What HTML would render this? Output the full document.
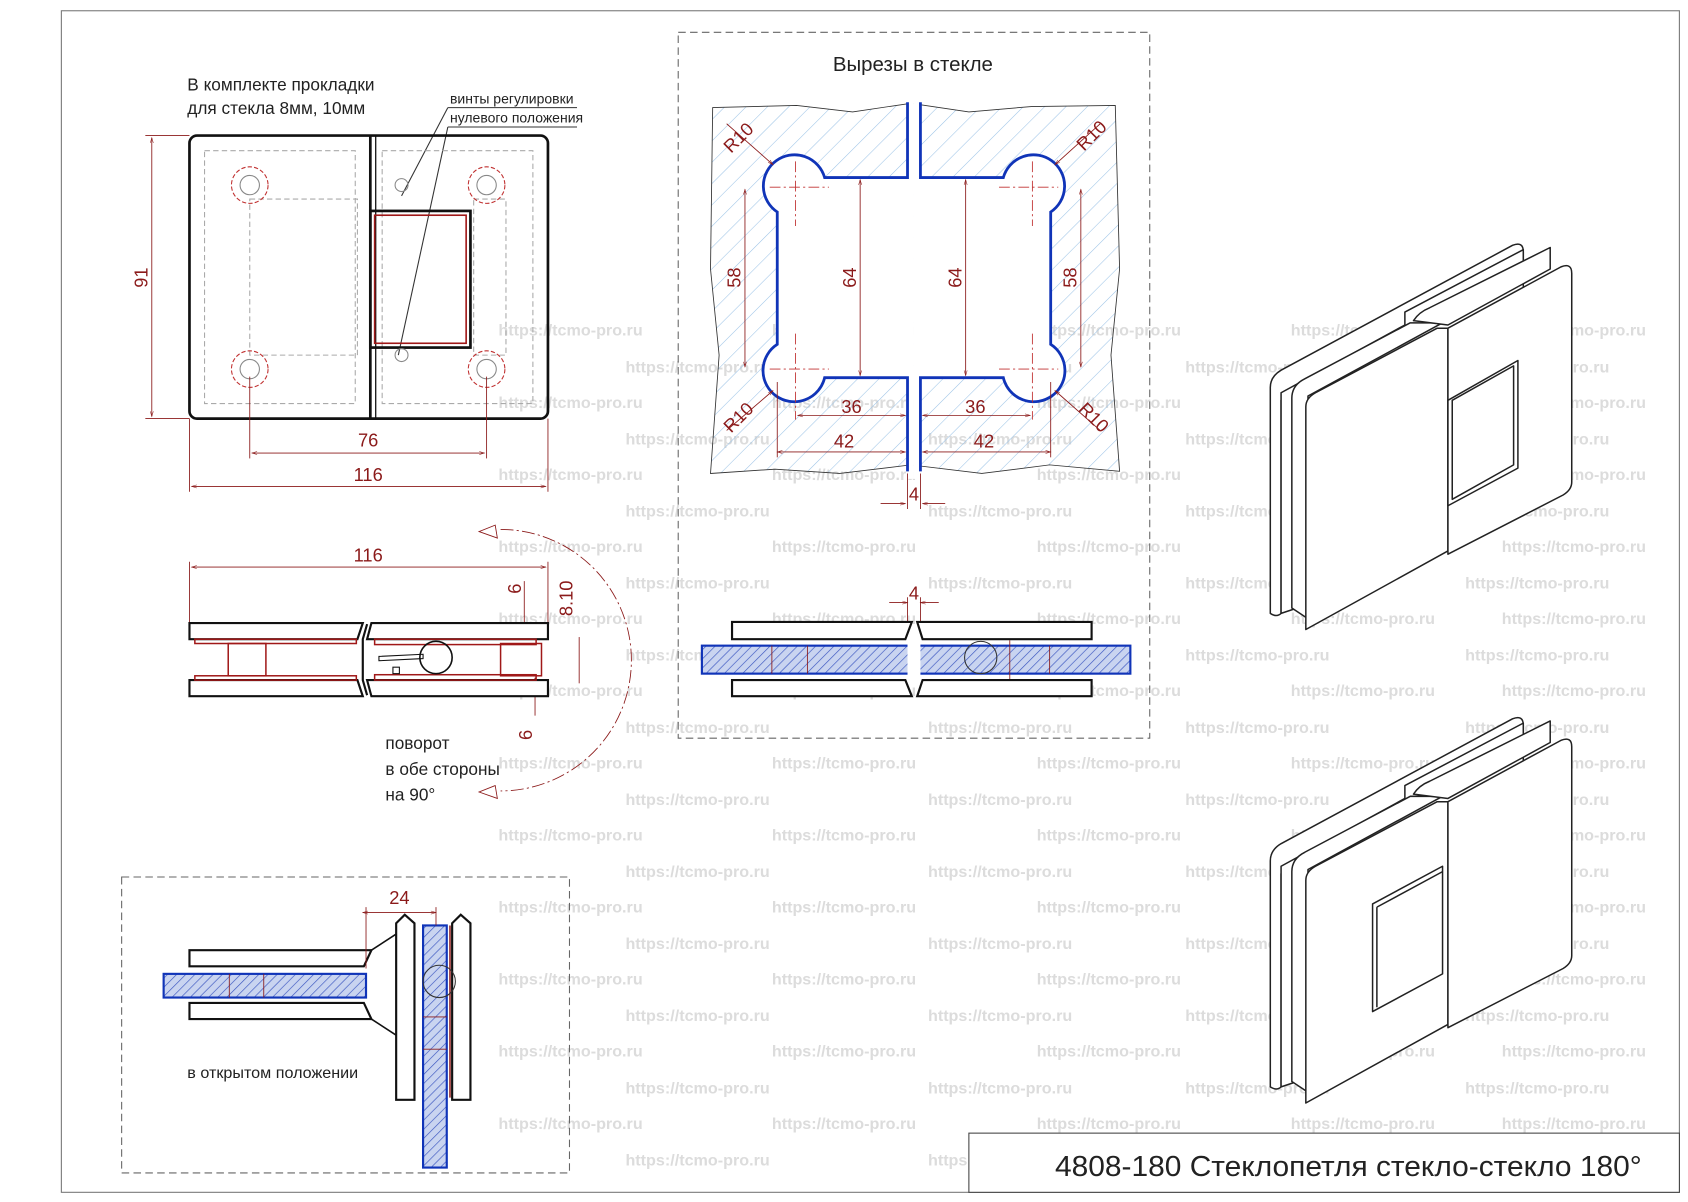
<!DOCTYPE html>
<html><head><meta charset="utf-8"><style>
html,body{margin:0;padding:0;background:#fff;}
svg{display:block}
text{font-family:"Liberation Sans",sans-serif;}
.t{font-family:"Liberation Sans Narrow","Liberation Sans",sans-serif;fill:#222;}
.r{fill:#8b1a1a;font-size:17px;font-family:"Liberation Sans Narrow","Liberation Sans",sans-serif;}
.w{fill:#dcdcdc;font-size:15px;font-weight:bold;}
</style></head><body>
<svg width="1688" height="1202" viewBox="0 0 1568 1117" preserveAspectRatio="none" xmlns="http://www.w3.org/2000/svg">
<defs>
<pattern id="h" width="14" height="14" patternUnits="userSpaceOnUse" patternTransform="rotate(45)">
<line x1="0" y1="0" x2="0" y2="14" stroke="#9cc3e6" stroke-width="1"/>
</pattern>
<pattern id="g" width="6" height="6" patternUnits="userSpaceOnUse" patternTransform="rotate(45)">
<rect width="6" height="6" fill="#c9d4f0"/><line x1="0" y1="0" x2="0" y2="6" stroke="#3a55c0" stroke-width="1.2"/>
</pattern>
<marker id="a" viewBox="0 0 10 10" refX="10" refY="5" markerWidth="10" markerHeight="6" orient="auto-start-reverse"><path d="M0,2 L10,5 L0,8" fill="none" stroke="#8b1a1a"/></marker>
</defs>
<rect x="57" y="10" width="1503" height="1098" fill="none" stroke="#777" stroke-width="1"/>

<g class="w">
<text x="463" y="312">https://tcmo-pro.ru</text><text x="717" y="312">https://tcmo-pro.ru</text><text x="963" y="312">https://tcmo-pro.ru</text><text x="1199" y="312">https://tcmo-pro.ru</text><text x="1395" y="312">https://tcmo-pro.ru</text>
<text x="581" y="346">https://tcmo-pro.ru</text><text x="862" y="346">https://tcmo-pro.ru</text><text x="1101" y="346">https://tcmo-pro.ru</text><text x="1361" y="346">https://tcmo-pro.ru</text>
<text x="463" y="379">https://tcmo-pro.ru</text><text x="717" y="379">https://tcmo-pro.ru</text><text x="963" y="379">https://tcmo-pro.ru</text><text x="1199" y="379">https://tcmo-pro.ru</text><text x="1395" y="379">https://tcmo-pro.ru</text>
<text x="581" y="413">https://tcmo-pro.ru</text><text x="862" y="413">https://tcmo-pro.ru</text><text x="1101" y="413">https://tcmo-pro.ru</text><text x="1361" y="413">https://tcmo-pro.ru</text>
<text x="463" y="446">https://tcmo-pro.ru</text><text x="717" y="446">https://tcmo-pro.ru</text><text x="963" y="446">https://tcmo-pro.ru</text><text x="1199" y="446">https://tcmo-pro.ru</text><text x="1395" y="446">https://tcmo-pro.ru</text>
<text x="581" y="480">https://tcmo-pro.ru</text><text x="862" y="480">https://tcmo-pro.ru</text><text x="1101" y="480">https://tcmo-pro.ru</text><text x="1361" y="480">https://tcmo-pro.ru</text>
<text x="463" y="513">https://tcmo-pro.ru</text><text x="717" y="513">https://tcmo-pro.ru</text><text x="963" y="513">https://tcmo-pro.ru</text><text x="1199" y="513">https://tcmo-pro.ru</text><text x="1395" y="513">https://tcmo-pro.ru</text>
<text x="581" y="547">https://tcmo-pro.ru</text><text x="862" y="547">https://tcmo-pro.ru</text><text x="1101" y="547">https://tcmo-pro.ru</text><text x="1361" y="547">https://tcmo-pro.ru</text>
<text x="463" y="580">https://tcmo-pro.ru</text><text x="717" y="580">https://tcmo-pro.ru</text><text x="963" y="580">https://tcmo-pro.ru</text><text x="1199" y="580">https://tcmo-pro.ru</text><text x="1395" y="580">https://tcmo-pro.ru</text>
<text x="581" y="614">https://tcmo-pro.ru</text><text x="862" y="614">https://tcmo-pro.ru</text><text x="1101" y="614">https://tcmo-pro.ru</text><text x="1361" y="614">https://tcmo-pro.ru</text>
<text x="463" y="647">https://tcmo-pro.ru</text><text x="717" y="647">https://tcmo-pro.ru</text><text x="963" y="647">https://tcmo-pro.ru</text><text x="1199" y="647">https://tcmo-pro.ru</text><text x="1395" y="647">https://tcmo-pro.ru</text>
<text x="581" y="681">https://tcmo-pro.ru</text><text x="862" y="681">https://tcmo-pro.ru</text><text x="1101" y="681">https://tcmo-pro.ru</text><text x="1361" y="681">https://tcmo-pro.ru</text>
<text x="463" y="714">https://tcmo-pro.ru</text><text x="717" y="714">https://tcmo-pro.ru</text><text x="963" y="714">https://tcmo-pro.ru</text><text x="1199" y="714">https://tcmo-pro.ru</text><text x="1395" y="714">https://tcmo-pro.ru</text>
<text x="581" y="748">https://tcmo-pro.ru</text><text x="862" y="748">https://tcmo-pro.ru</text><text x="1101" y="748">https://tcmo-pro.ru</text><text x="1361" y="748">https://tcmo-pro.ru</text>
<text x="463" y="781">https://tcmo-pro.ru</text><text x="717" y="781">https://tcmo-pro.ru</text><text x="963" y="781">https://tcmo-pro.ru</text><text x="1199" y="781">https://tcmo-pro.ru</text><text x="1395" y="781">https://tcmo-pro.ru</text>
<text x="581" y="815">https://tcmo-pro.ru</text><text x="862" y="815">https://tcmo-pro.ru</text><text x="1101" y="815">https://tcmo-pro.ru</text><text x="1361" y="815">https://tcmo-pro.ru</text>
<text x="463" y="848">https://tcmo-pro.ru</text><text x="717" y="848">https://tcmo-pro.ru</text><text x="963" y="848">https://tcmo-pro.ru</text><text x="1199" y="848">https://tcmo-pro.ru</text><text x="1395" y="848">https://tcmo-pro.ru</text>
<text x="581" y="882">https://tcmo-pro.ru</text><text x="862" y="882">https://tcmo-pro.ru</text><text x="1101" y="882">https://tcmo-pro.ru</text><text x="1361" y="882">https://tcmo-pro.ru</text>
<text x="463" y="915">https://tcmo-pro.ru</text><text x="717" y="915">https://tcmo-pro.ru</text><text x="963" y="915">https://tcmo-pro.ru</text><text x="1199" y="915">https://tcmo-pro.ru</text><text x="1395" y="915">https://tcmo-pro.ru</text>
<text x="581" y="949">https://tcmo-pro.ru</text><text x="862" y="949">https://tcmo-pro.ru</text><text x="1101" y="949">https://tcmo-pro.ru</text><text x="1361" y="949">https://tcmo-pro.ru</text>
<text x="463" y="982">https://tcmo-pro.ru</text><text x="717" y="982">https://tcmo-pro.ru</text><text x="963" y="982">https://tcmo-pro.ru</text><text x="1199" y="982">https://tcmo-pro.ru</text><text x="1395" y="982">https://tcmo-pro.ru</text>
<text x="581" y="1016">https://tcmo-pro.ru</text><text x="862" y="1016">https://tcmo-pro.ru</text><text x="1101" y="1016">https://tcmo-pro.ru</text><text x="1361" y="1016">https://tcmo-pro.ru</text>
<text x="463" y="1049">https://tcmo-pro.ru</text><text x="717" y="1049">https://tcmo-pro.ru</text><text x="963" y="1049">https://tcmo-pro.ru</text><text x="1199" y="1049">https://tcmo-pro.ru</text><text x="1395" y="1049">https://tcmo-pro.ru</text>
<text x="581" y="1083">https://tcmo-pro.ru</text><text x="862" y="1083">https://tcmo-pro.ru</text>
</g>

<text class="t" x="174" y="84" font-size="16">В комплекте прокладки</text>
<text class="t" x="174" y="106" font-size="16">для стекла 8мм, 10мм</text>
<text class="t" x="418" y="96" font-size="13">винты регулировки</text>
<text class="t" x="418" y="114" font-size="13">нулевого положения</text>
<line x1="416" y1="100" x2="536" y2="100" stroke="#333"/>
<line x1="416" y1="118" x2="536" y2="118" stroke="#333"/>
<line x1="416" y1="100" x2="373" y2="182" stroke="#333"/>
<line x1="416" y1="118" x2="370" y2="330" stroke="#333"/>
<rect x="176" y="126" width="333" height="263" rx="7" fill="none" stroke="#111" stroke-width="2.5"/>
<line x1="344" y1="126" x2="344" y2="389" stroke="#111" stroke-width="2.5"/>
<line x1="349" y1="126" x2="349" y2="389" stroke="#111" stroke-width="1.2"/>
<g fill="none" stroke="#aaa" stroke-dasharray="5,3">
<rect x="190" y="140" width="140" height="235"/><rect x="232" y="185" width="100" height="145"/>
<rect x="355" y="140" width="140" height="235"/><rect x="440" y="185" width="30" height="145"/>
</g>
<rect x="344" y="196" width="93" height="127" fill="none" stroke="#111" stroke-width="2.5"/>
<rect x="348" y="200" width="85" height="119" fill="none" stroke="#a01818" stroke-width="1.5"/>
<g fill="none" stroke="#c03030" stroke-dasharray="4,2">
<circle cx="232" cy="172" r="17"/><circle cx="452" cy="172" r="17"/><circle cx="232" cy="343" r="17"/><circle cx="452" cy="343" r="17"/>
</g>
<g fill="none" stroke="#888">
<circle cx="232" cy="172" r="9"/><circle cx="452" cy="172" r="9"/><circle cx="232" cy="343" r="9"/><circle cx="452" cy="343" r="9"/>
<circle cx="373" cy="172" r="6"/><circle cx="373" cy="330" r="6"/>
</g>
<g stroke="#8b1a1a" fill="none" stroke-width="0.8">
<line x1="176" y1="126" x2="135" y2="126"/><line x1="176" y1="389" x2="135" y2="389"/>
<line x1="141" y1="128" x2="141" y2="387" marker-start="url(#a)" marker-end="url(#a)"/>
<line x1="232" y1="350" x2="232" y2="426"/><line x1="452" y1="350" x2="452" y2="426"/>
<line x1="234" y1="421" x2="450" y2="421" marker-start="url(#a)" marker-end="url(#a)"/>
<line x1="176" y1="389" x2="176" y2="457"/><line x1="509" y1="389" x2="509" y2="457"/>
<line x1="178" y1="452" x2="507" y2="452" marker-start="url(#a)" marker-end="url(#a)"/>
</g>
<text class="r" transform="translate(137,258) rotate(-90)" text-anchor="middle">91</text>
<text class="r" x="342" y="415" text-anchor="middle">76</text>
<text class="r" x="342" y="447" text-anchor="middle">116</text>

<g stroke="#8b1a1a" fill="none" stroke-width="0.8">
<line x1="176" y1="579" x2="176" y2="522"/><line x1="509" y1="579" x2="509" y2="522"/>
<line x1="178" y1="527" x2="507" y2="527" marker-start="url(#a)" marker-end="url(#a)"/>
<line x1="487" y1="540" x2="487" y2="592" marker-end="url(#a)"/>
<line x1="497" y1="630" x2="497" y2="665" marker-start="url(#a)"/>
<line x1="538" y1="592" x2="538" y2="635"/>
<path d="M465,492 A120,120 0 0 1 465,735" stroke-dasharray="12,3,2,3"/>
<path d="M460,488 L445,494 L462,500 Z"/>
<path d="M460,730 L445,736 L462,742 Z"/>
</g>
<text class="r" x="342" y="522" text-anchor="middle">116</text>
<text class="r" transform="translate(484,547) rotate(-90)" text-anchor="middle">6</text>
<text class="r" transform="translate(532,556) rotate(-90)" text-anchor="middle">8.10</text>
<text class="r" transform="translate(494,683) rotate(-90)" text-anchor="middle">6</text>
<g fill="#fff" stroke="#111" stroke-width="2">
<path d="M176,579 L337,579 L332,594 L176,594 Z"/>
<path d="M176,632 L332,632 L337,647 L176,647 Z"/>
<path d="M345,579 L509,579 L509,594 L341,594 Z"/>
<path d="M341,632 L509,632 L509,647 L345,647 Z"/>
</g>
<path d="M341,580 L337,594 L337,632 L341,646" fill="none" stroke="#111" stroke-width="2"/>
<g fill="none" stroke="#a01818" stroke-width="1.4">
<rect x="181" y="594" width="150" height="4"/><rect x="181" y="628" width="150" height="4"/>
<rect x="348" y="594" width="150" height="5"/><rect x="348" y="627" width="150" height="5"/>
<rect x="212" y="598" width="35" height="30"/><rect x="465" y="598" width="38" height="30"/>
</g>
<circle cx="405" cy="611" r="15" fill="none" stroke="#111" stroke-width="1.5"/>
<path d="M352,610 L393,608 L393,612 L352,614 Z" fill="none" stroke="#111"/>
<rect x="365" y="620" width="6" height="6" fill="none" stroke="#111"/>
<text class="t" x="358" y="696" font-size="16">поворот</text>
<text class="t" x="358" y="720" font-size="16">в обе стороны</text>
<text class="t" x="358" y="744" font-size="16">на 90°</text>

<rect x="630" y="30" width="438" height="656" fill="none" stroke="#666" stroke-dasharray="7,4"/>
<text class="t" x="848" y="66" font-size="19" text-anchor="middle">Вырезы в стекле</text>
<path d="M662,100 L740,98 L792,104 L846,96 L900,104 L958,99 L1036,98 L1040,250 L1032,330 L1040,438 L975,432 L912,440 L846,432 L780,440 L720,436 L660,440 L668,330 L660,250 Z" fill="url(#h)" stroke="#333" stroke-width="0.8"/>
<path d="M843,92 L843,165 L766,165 A29,29 0 1 0 722,197 L722,320 A29,29 0 1 0 766,351 L843,351 L843,445 L849,445 L849,92 Z" fill="#fff"/>
<path d="M855,92 L855,165 L932,165 A29,29 0 1 1 976,197 L976,320 A29,29 0 1 1 932,351 L855,351 L855,445 L849,445 L849,92 Z" fill="#fff"/>
<g fill="none" stroke="#1034b8" stroke-width="2.6">
<path d="M843,95 L843,165 L766,165 A29,29 0 1 0 722,197 L722,320 A29,29 0 1 0 766,351 L843,351 L843,438"/>
<path d="M855,95 L855,165 L932,165 A29,29 0 1 1 976,197 L976,320 A29,29 0 1 1 932,351 L855,351 L855,438"/>
</g>
<g stroke="#c03030" stroke-width="0.8" fill="none" stroke-dasharray="10,3,2,3">
<line x1="739" y1="150" x2="739" y2="210"/><line x1="715" y1="174" x2="770" y2="174"/>
<line x1="959" y1="150" x2="959" y2="210"/><line x1="928" y1="174" x2="983" y2="174"/>
<line x1="739" y1="310" x2="739" y2="390"/><line x1="715" y1="343" x2="770" y2="343"/>
<line x1="959" y1="310" x2="959" y2="390"/><line x1="928" y1="343" x2="983" y2="343"/>
</g>
<g stroke="#8b1a1a" stroke-width="0.8" fill="none">
<line x1="692" y1="176" x2="692" y2="341" marker-start="url(#a)" marker-end="url(#a)"/>
<line x1="799" y1="167" x2="799" y2="349" marker-start="url(#a)" marker-end="url(#a)"/>
<line x1="897" y1="167" x2="897" y2="349" marker-start="url(#a)" marker-end="url(#a)"/>
<line x1="1004" y1="176" x2="1004" y2="341" marker-start="url(#a)" marker-end="url(#a)"/>
<line x1="741" y1="386" x2="841" y2="386" marker-start="url(#a)" marker-end="url(#a)"/>
<line x1="857" y1="386" x2="957" y2="386" marker-start="url(#a)" marker-end="url(#a)"/>
<line x1="722" y1="420" x2="841" y2="420" marker-start="url(#a)" marker-end="url(#a)"/>
<line x1="857" y1="420" x2="976" y2="420" marker-start="url(#a)" marker-end="url(#a)"/>
<line x1="722" y1="355" x2="722" y2="425"/><line x1="976" y1="355" x2="976" y2="425"/>
<line x1="818" y1="468" x2="841" y2="468" marker-end="url(#a)"/><line x1="878" y1="468" x2="857" y2="468" marker-end="url(#a)"/>
<line x1="843" y1="440" x2="843" y2="473"/><line x1="855" y1="440" x2="855" y2="473"/>
<line x1="675" y1="115" x2="718" y2="153" marker-end="url(#a)"/>
<line x1="1022" y1="115" x2="980" y2="153" marker-end="url(#a)"/>
<line x1="675" y1="400" x2="718" y2="363" marker-end="url(#a)"/>
<line x1="1022" y1="400" x2="980" y2="363" marker-end="url(#a)"/>
</g>
<text class="r" transform="translate(690,132) rotate(-45)" text-anchor="middle">R10</text>
<text class="r" transform="translate(1018,130) rotate(-45)" text-anchor="middle">R10</text>
<text class="r" transform="translate(690,392) rotate(-45)" text-anchor="middle">R10</text>
<text class="r" transform="translate(1012,392) rotate(45)" text-anchor="middle">R10</text>
<text class="r" transform="translate(688,258) rotate(-90)" text-anchor="middle">58</text>
<text class="r" transform="translate(795,258) rotate(-90)" text-anchor="middle">64</text>
<text class="r" transform="translate(893,258) rotate(-90)" text-anchor="middle">64</text>
<text class="r" transform="translate(1000,258) rotate(-90)" text-anchor="middle">58</text>
<text class="r" x="791" y="384" text-anchor="middle">36</text>
<text class="r" x="906" y="384" text-anchor="middle">36</text>
<text class="r" x="784" y="416" text-anchor="middle">42</text>
<text class="r" x="914" y="416" text-anchor="middle">42</text>
<text class="r" x="849" y="465" text-anchor="middle">4</text>

<rect x="652" y="600" width="398" height="26" fill="url(#g)" stroke="#1034b8" stroke-width="2"/>
<rect x="843" y="598" width="12" height="30" fill="#fff"/>
<g stroke="#8b1a1a" stroke-width="0.8" fill="none">
<line x1="826" y1="560" x2="843" y2="560" marker-end="url(#a)"/><line x1="872" y1="560" x2="855" y2="560" marker-end="url(#a)"/>
<line x1="843" y1="555" x2="843" y2="578"/><line x1="855" y1="555" x2="855" y2="578"/>
<line x1="717" y1="600" x2="717" y2="626"/><line x1="750" y1="600" x2="750" y2="626"/><line x1="938" y1="595" x2="938" y2="632"/><line x1="975" y1="600" x2="975" y2="626"/>
</g>
<text class="r" x="849" y="557" text-anchor="middle">4</text>
<g fill="#fff" stroke="#111" stroke-width="2">
<path d="M680,578 L847,578 L841,594 L680,594 Z"/>
<path d="M680,632 L841,632 L847,647 L680,647 Z"/>
<path d="M852,578 L1014,578 L1014,594 L857,594 Z"/>
<path d="M857,632 L1014,632 L1014,647 L852,647 Z"/>
</g>
<circle cx="911" cy="611" r="15" fill="none" stroke="#333"/>

<rect x="113" y="815" width="416" height="275" fill="none" stroke="#666" stroke-dasharray="7,4"/>
<rect x="152" y="905" width="188" height="22" fill="url(#g)" stroke="#1034b8" stroke-width="2"/>
<rect x="393" y="860" width="22" height="225" fill="url(#g)" stroke="#1034b8" stroke-width="2"/>
<g fill="#fff" stroke="#111" stroke-width="2">
<path d="M176,883 L345,883 L338,898 L176,898 Z"/>
<path d="M176,932 L338,932 L345,947 L176,947 Z"/>
<path d="M368,858 L376,850 L385,858 L385,1022 L368,1022 Z"/>
<path d="M420,858 L428,850 L437,858 L437,1022 L420,1022 Z"/>
</g>
<path d="M345,883 L368,868 M345,947 L368,962" stroke="#111" stroke-width="1.5" fill="none"/>
<g stroke="#8b1a1a" stroke-width="0.8" fill="none">
<line x1="337" y1="848" x2="405" y2="848" marker-start="url(#a)" marker-end="url(#a)"/>
<line x1="340" y1="843" x2="340" y2="900"/><line x1="405" y1="843" x2="405" y2="860"/>
<line x1="213" y1="905" x2="213" y2="927"/><line x1="245" y1="905" x2="245" y2="927"/>
<line x1="393" y1="945" x2="415" y2="945"/><line x1="393" y1="975" x2="415" y2="975"/>
<line x1="418" y1="860" x2="418" y2="1020" stroke-width="1.4"/>
</g>
<circle cx="408" cy="912" r="15" fill="none" stroke="#333"/>
<text class="r" x="371" y="840" text-anchor="middle">24</text>
<text class="t" x="174" y="1002" font-size="15">в открытом положении</text>

<g fill="#fff" stroke="#222" stroke-width="1.4" stroke-linejoin="round">
<path d="M1180,570 L1180,360 Q1180,350 1190,344 L1405,228 Q1415,224 1415,234 L1415,250 L1190,372 L1190,570 Q1186,574 1180,570 Z"/>
<path d="M1190,570 L1190,365 L1305,302 L1305,290 L1415,232 L1415,440 L1205,565 Z"/>
<path d="M1200,565 L1200,370 Q1200,358 1212,352 L1310,300 L1340,300 L1215,368 L1215,575 Z"/>
<path d="M1313,298 Q1318,290 1328,286 L1440,230 L1440,250 L1345,302 Z"/>
<path d="M1213,585 L1213,378 Q1213,370 1222,365 L1335,305 L1345,305 L1345,512 Z"/>
<path d="M1345,305 L1450,248 Q1460,244 1460,254 L1460,448 Q1460,455 1452,460 L1345,515 Z"/>
<path d="M1345,372 L1410,335 L1410,435 L1345,470 Z"/>
<path d="M1349,372 L1406,340 L1406,432 L1349,464 Z"/>
</g>
<g fill="#fff" stroke="#222" stroke-width="1.4" stroke-linejoin="round">
<path d="M1180,1010 L1180,800 Q1180,790 1190,784 L1405,668 Q1415,664 1415,674 L1415,690 L1190,812 L1190,1010 Q1186,1014 1180,1010 Z"/>
<path d="M1190,1010 L1190,805 L1305,742 L1305,730 L1415,672 L1415,880 L1205,1005 Z"/>
<path d="M1200,1005 L1200,810 Q1200,798 1212,792 L1310,740 L1340,740 L1215,808 L1215,1015 Z"/>
<path d="M1313,738 Q1318,730 1328,726 L1440,670 L1440,690 L1345,742 Z"/>
<path d="M1213,1025 L1213,818 Q1213,810 1222,805 L1335,745 L1345,745 L1345,952 Z"/>
<path d="M1345,745 L1450,688 Q1460,684 1460,694 L1460,888 Q1460,895 1452,900 L1345,955 Z"/>
<path d="M1275,840 L1340,805 L1340,905 L1275,940 Z"/>
<path d="M1279,843 L1340,810 M1279,843 L1279,936"/>
</g>

<rect x="900" y="1053" width="660" height="55" fill="#fff" stroke="#444" stroke-width="1"/>
<text class="t" x="980" y="1093" font-size="27" textLength="545" lengthAdjust="spacingAndGlyphs">4808-180 Стеклопетля стекло-стекло 180°</text>
</svg>
</body></html>
